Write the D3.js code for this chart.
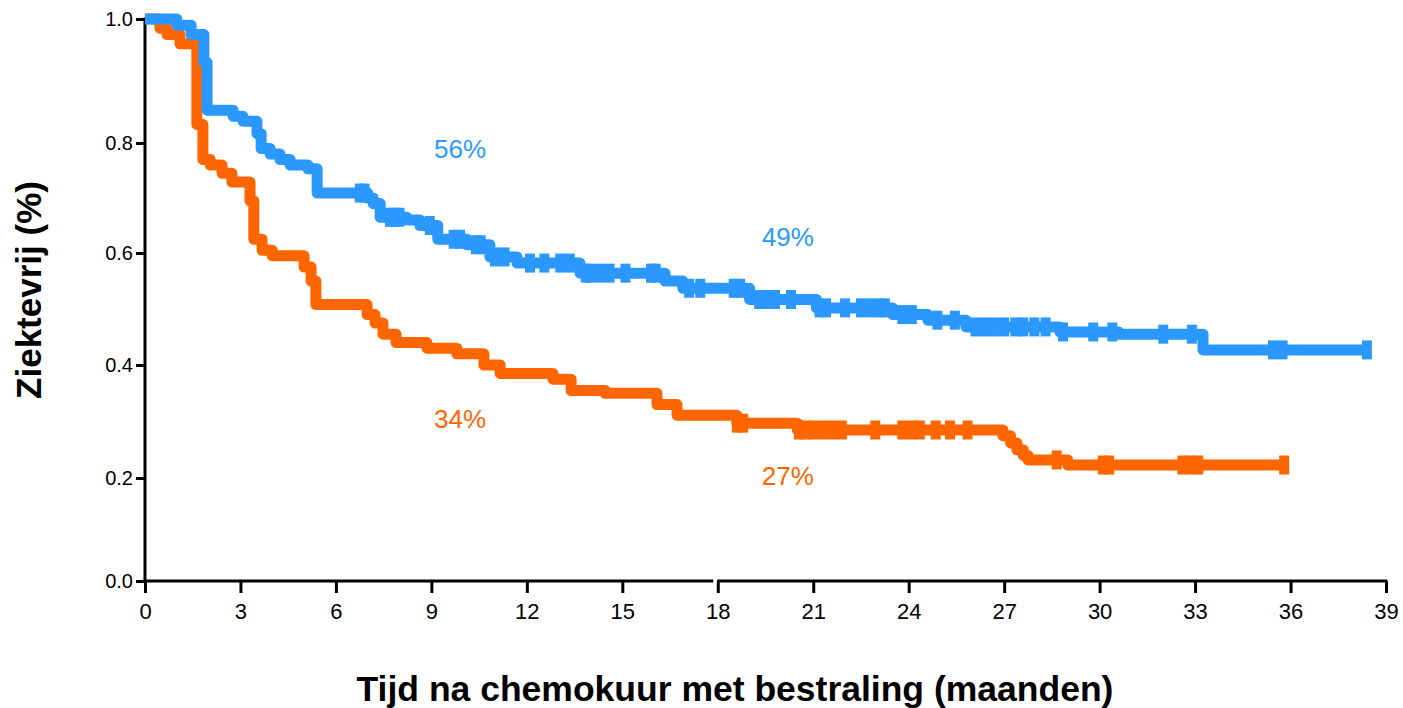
<!DOCTYPE html>
<html>
<head>
<meta charset="utf-8">
<script src="https://cdn.jsdelivr.net/npm/d3@7"></script>
<style>
  body { margin: 0; background: #fff; }
  svg { display: block; }
  .tick text { fill: #000; }
</style>
</head>
<body>
<svg id="km-chart"></svg>
<script>
// Kaplan-Meier curves: step times (months) and survival after each step
const blueTimes = [0, 1.0, 1.45, 1.85, 1.95, 2.77, 3.08, 3.52, 3.65, 3.93, 4.24, 4.56, 5.12, 5.41, 7.0, 7.17, 7.39, 8.23, 8.64, 9.2, 10.12, 10.84, 11.69, 13.67, 16.34, 16.9, 19.0, 21.1, 23.5, 24.6, 25.8, 28.75, 30.6, 33.25];
const blueSurv  = [1.0, 0.99, 0.975, 0.93, 0.853, 0.843, 0.835, 0.815, 0.79, 0.78, 0.77, 0.76, 0.753, 0.709, 0.70, 0.69, 0.665, 0.66, 0.65, 0.625, 0.615, 0.593, 0.582, 0.564, 0.55, 0.537, 0.517, 0.502, 0.49, 0.48, 0.468, 0.459, 0.455, 0.427];
const blueCensor = [6.75, 6.9, 7.7, 7.85, 8.0, 8.95, 9.7, 9.9, 10.4, 10.55, 11.0, 11.3, 12.1, 12.55, 13.05, 13.35, 13.85, 14.0, 14.3, 14.6, 15.1, 15.9, 16.05, 17.1, 17.45, 18.5, 18.7, 19.3, 19.5, 19.8, 20.3, 21.2, 21.4, 22.0, 22.5, 22.8, 23.1, 23.25, 23.8, 24.1, 24.9, 25.45, 26.1, 26.4, 26.7, 27.0, 27.35, 27.6, 27.95, 28.3, 28.85, 29.8, 30.4, 32.0, 32.9, 35.45, 35.75, 38.4];

const orangeTimes = [0, 0.47, 0.69, 1.1, 1.63, 1.82, 2.05, 2.42, 2.73, 3.3, 3.42, 3.68, 4.0, 5.0, 5.22, 5.37, 6.98, 7.23, 7.48, 7.89, 8.86, 9.8, 10.65, 11.16, 12.82, 13.39, 14.46, 16.09, 16.72, 18.6, 20.5, 26.96, 27.2, 27.4, 27.6, 27.75, 29.0];
const orangeSurv  = [1.0, 0.985, 0.975, 0.96, 0.83, 0.77, 0.76, 0.745, 0.729, 0.695, 0.625, 0.605, 0.595, 0.575, 0.55, 0.508, 0.49, 0.475, 0.455, 0.44, 0.43, 0.42, 0.40, 0.385, 0.375, 0.355, 0.35, 0.33, 0.311, 0.297, 0.285, 0.275, 0.262, 0.25, 0.24, 0.232, 0.223];
const orangeCensor = [18.6, 18.8, 20.55, 20.75, 21.0, 21.3, 21.6, 21.9, 22.95, 23.8, 24.1, 24.35, 24.85, 25.3, 25.85, 28.65, 30.1, 30.3, 32.6, 32.85, 33.1, 35.8];

// Percentage annotations
const labelText  = ["56%", "49%", "34%", "27%"];
const labelTime  = [9.9, 20.2, 9.9, 20.2];
const labelValue = [0.785, 0.625, 0.3, 0.2];
const labelGroup = ["blue", "blue", "orange", "orange"];

// Axis ticks
const xTicks = [0, 3, 6, 9, 12, 15, 18, 21, 24, 27, 30, 33, 36, 39];
const yTicks = [0.0, 0.2, 0.4, 0.6, 0.8, 1.0];
const axisBreak = [17.86, 17.98];

const width = 1403;
const height = 708;
const color = { blue: "#2b98ff", orange: "#ff6600" };

const svg = d3.select("#km-chart")
    .attr("width", width)
    .attr("height", height)
    .attr("viewBox", [0, 0, width, height]);

const x = d3.scaleLinear()
    .domain([0, 39])
    .range([145, 1386]);

// the printed y axis is not evenly spaced, so follow each tick
const y = d3.scaleLinear()
    .domain(yTicks)
    .range([581, 478, 365, 253, 143, 19]);

// step value lookup for censor marks
function survAt(times, surv, t) {
    const i = d3.bisectRight(times, t) - 1;
    return surv[Math.max(0, i)];
}

const curves = [
    { key: "orange", times: orangeTimes, surv: orangeSurv, censor: orangeCensor },
    { key: "blue", times: blueTimes, surv: blueSurv, censor: blueCensor }
];

const line = d3.line()
    .x(d => x(d[0]))
    .y(d => y(d[1]))
    .curve(d3.curveStepAfter);

// Axes
const yAxis = svg.append("g")
    .attr("transform", `translate(${x(0)},0)`)
    .call(d3.axisLeft(y).tickValues(yTicks).tickFormat(d3.format(".1f")).tickSize(9).tickPadding(3))
    .call(g => g.select(".domain").remove());
yAxis.selectAll(".tick line").attr("stroke", "#000").attr("stroke-width", 3);
yAxis.selectAll(".tick text")
    .attr("font-family", "'Liberation Sans', Arial, sans-serif")
    .attr("font-size", 20);
svg.append("line")
    .attr("x1", x(0)).attr("x2", x(0))
    .attr("y1", y(1) - 1.5).attr("y2", y(0) + 1.5)
    .attr("stroke", "#000").attr("stroke-width", 3);

const xAxis = svg.append("g")
    .attr("transform", `translate(0,${y(0)})`)
    .call(d3.axisBottom(x).tickValues(xTicks).tickFormat(d3.format("d")).tickSize(12).tickPadding(10))
    .call(g => g.select(".domain").remove());
xAxis.selectAll(".tick line").attr("stroke", "#000").attr("stroke-width", 3);
xAxis.selectAll(".tick text")
    .attr("font-family", "'Liberation Sans Narrow', 'Liberation Sans', Arial, sans-serif")
    .attr("font-size", 22);

// x axis line with the small break before 18
[[0, axisBreak[0]], [axisBreak[1], 39]].forEach(([a, b]) => {
    svg.append("line")
        .attr("x1", x(a) - (a === 0 ? 1.5 : 0)).attr("x2", x(b) + (b === 39 ? 1.5 : 0))
        .attr("y1", y(0)).attr("y2", y(0))
        .attr("stroke", "#000").attr("stroke-width", 3);
});

// Curves
curves.forEach(c => {
    const pts = c.times.map((t, i) => [t, c.surv[i]]);
    const lastT = d3.max(c.censor);
    pts.push([lastT, c.surv[c.surv.length - 1]]);

    svg.append("path")
        .datum(pts)
        .attr("fill", "none")
        .attr("stroke", color[c.key])
        .attr("stroke-width", 11)
        .attr("stroke-linejoin", "round")
        .attr("d", line);

    svg.append("g")
        .selectAll("rect")
        .data(c.censor)
        .join("rect")
        .attr("x", d => x(d) - 5)
        .attr("y", d => y(survAt(c.times, c.surv, d)) - 9.5)
        .attr("width", 10)
        .attr("height", 19)
        .attr("fill", color[c.key]);
});

// Percentage labels
svg.append("g")
    .selectAll("text")
    .data(labelText)
    .join("text")
    .attr("x", (d, i) => x(labelTime[i]))
    .attr("y", (d, i) => y(labelValue[i]))
    .attr("text-anchor", "middle")
    .attr("dominant-baseline", "middle")
    .attr("font-family", "'Liberation Sans', Arial, sans-serif")
    .attr("font-size", 26)
    .attr("fill", (d, i) => color[labelGroup[i]])
    .text(d => d);

// Axis titles
svg.append("text")
    .attr("x", 735)
    .attr("y", 701)
    .attr("text-anchor", "middle")
    .attr("font-family", "'Liberation Sans', Arial, sans-serif")
    .attr("font-weight", "bold")
    .attr("font-size", 35.5)
    .text("Tijd na chemokuur met bestraling (maanden)");

svg.append("text")
    .attr("transform", "translate(41,290) rotate(-90)")
    .attr("text-anchor", "middle")
    .attr("font-family", "'Liberation Sans', Arial, sans-serif")
    .attr("font-weight", "bold")
    .attr("font-size", 35)
    .text("Ziektevrij (%)");
</script>
</body>
</html>
